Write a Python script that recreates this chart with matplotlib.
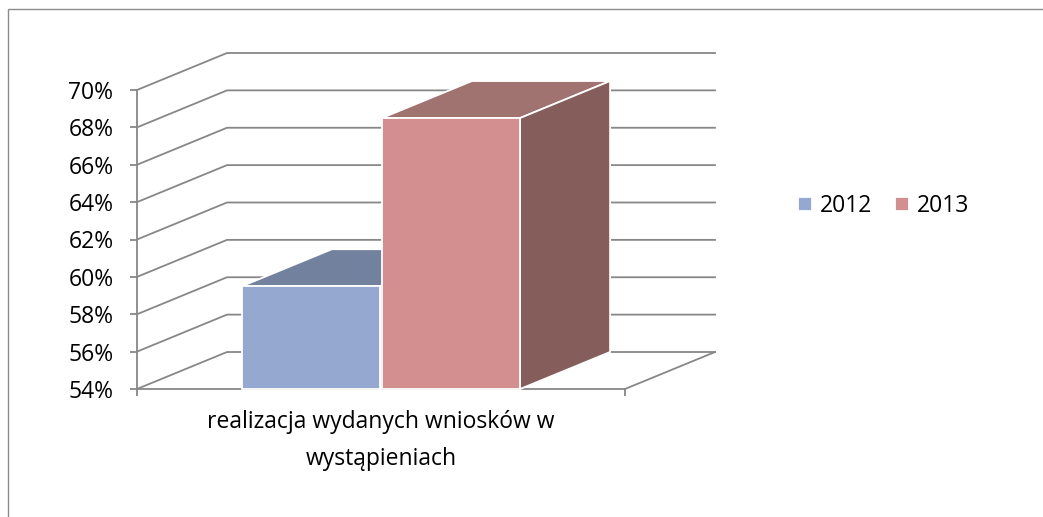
import matplotlib
matplotlib.use("Agg")
import matplotlib.pyplot as plt
from matplotlib.patches import Polygon, Rectangle

# dane z wykresu
category = "realizacja wydanych wniosków w\nwystąpieniach"
years = ["2012", "2013"]
values = [59.5, 68.5]
y_ticks = [54, 56, 58, 60, 62, 64, 66, 68, 70]

front_colors = ["#95A9D0", "#D38F8F"]
top_colors = ["#71819E", "#A07270"]
side_colors = ["#5E6C86", "#855E5C"]

plt.rcParams["font.family"] = ["Open Sans", "DejaVu Sans"]
GRID = "#878787"
FS = 16.5

fig = plt.figure(figsize=(10.43, 5.17), dpi=100)
ax = fig.add_axes([137 / 1043, (517 - 389) / 517, 488 / 1043, 299 / 517])
ax.set_xlim(-0.5, 0.5)
ax.set_ylim(y_ticks[0], y_ticks[-1])

# głębokość efektu 3D w jednostkach danych
dx = 90 / 488
dy = 37 / (299 / (y_ticks[-1] - y_ticks[0]))

# ściana tylna i boczna
for v in y_ticks:
    ax.plot([-0.5, -0.5 + dx, 0.5 + dx], [v, v + dy, v + dy],
            color=GRID, lw=1.3, clip_on=False, zorder=1)
ax.plot([0.5, 0.5 + dx], [y_ticks[0], y_ticks[0] + dy],
        color=GRID, lw=1.3, clip_on=False, zorder=1)

width = 0.283
base = y_ticks[0]
for i, (yr, v) in enumerate(zip(years, values)):
    x0 = -width + i * width + (i - 0.5) * 0.004
    x1 = x0 + width
    z = 3 + i * 3
    ax.bar(x0, v - base, width=width, bottom=base, align="edge",
           color=front_colors[i], edgecolor="white", lw=1.3,
           label=yr, zorder=z + 2, clip_on=False)
    top = Polygon([(x0, v), (x1, v), (x1 + dx, v + dy), (x0 + dx, v + dy)],
                  closed=True, facecolor=top_colors[i], edgecolor="white",
                  lw=1.3, zorder=z, clip_on=False)
    side = Polygon([(x1, base), (x1, v), (x1 + dx, v + dy), (x1 + dx, base + dy)],
                   closed=True, facecolor=side_colors[i], edgecolor="white",
                   lw=1.3, zorder=z + 1, clip_on=False)
    ax.add_patch(top)
    ax.add_patch(side)

for s in ["top", "right"]:
    ax.spines[s].set_visible(False)
for s in ["left", "bottom"]:
    ax.spines[s].set_color(GRID)
    ax.spines[s].set_linewidth(1.3)
    ax.spines[s].set_zorder(1)

ax.set_yticks(y_ticks)
ax.set_yticklabels([f"{t}%" for t in y_ticks])
ax.tick_params(axis="y", length=5, width=1.3, color=GRID, labelsize=FS, pad=12)
ax.set_xticks([-0.5, 0.5])
ax.set_xticklabels(["", ""])
ax.set_xticks([0], minor=True)
ax.set_xticklabels([category], minor=True)
ax.tick_params(axis="x", which="major", length=5, width=1.3, color=GRID)
ax.tick_params(axis="x", which="minor", length=0, labelsize=FS, pad=15)
for lbl in ax.get_xticklabels(minor=True):
    lbl.set_linespacing(1.72)

fig.legend(loc="center left", bbox_to_anchor=(777 / 1043, 1 - 206 / 517),
           ncol=2, frameon=False, fontsize=FS, handlelength=0.62,
           handleheight=0.62, handletextpad=0.35, columnspacing=1.0)

fig.patches.append(Rectangle((8 / 1043, -0.1), 1.2, 1 - 9 / 517 + 0.1,
                             transform=fig.transFigure, fill=False,
                             edgecolor="#8C8C8C", lw=1.0))

fig.savefig("out.png", dpi=100)
